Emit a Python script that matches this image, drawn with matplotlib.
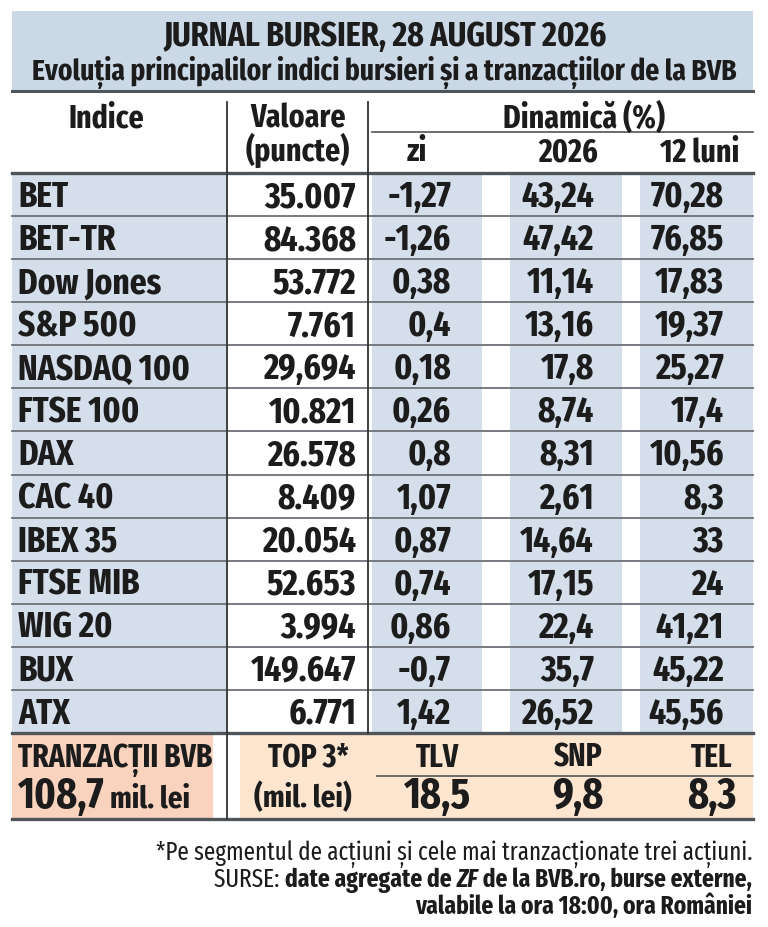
import matplotlib
matplotlib.use("Agg")
import matplotlib.pyplot as plt
from matplotlib import font_manager as fm
from matplotlib.patches import Rectangle

# ---------------- data ----------------
title = "JURNAL BURSIER, 28 AUGUST 2026"
subtitle = "Evoluția principalilor indici bursieri și a tranzacțiilor de la BVB"
indices = ["BET", "BET-TR", "Dow Jones", "S&P 500", "NASDAQ 100", "FTSE 100", "DAX",
           "CAC 40", "IBEX 35", "FTSE MIB", "WIG 20", "BUX", "ATX"]
valoare = ["35.007", "84.368", "53.772", "7.761", "29,694", "10.821", "26.578",
           "8.409", "20.054", "52.653", "3.994", "149.647", "6.771"]
dyn_zi = [-1.27, -1.26, 0.38, 0.4, 0.18, 0.26, 0.8, 1.07, 0.87, 0.74, 0.86, -0.7, 1.42]
dyn_2026 = [43.24, 47.42, 11.14, 13.16, 17.8, 8.74, 8.31, 2.61, 14.64, 17.15, 22.4, 35.7, 26.52]
dyn_12luni = [70.28, 76.85, 17.83, 19.37, 25.27, 17.4, 10.56, 8.3, 33, 24, 41.21, 45.22, 45.56]
total_bvb = 108.7
top3_tickers = ["TLV", "SNP", "TEL"]
top3_values = [18.5, 9.8, 8.3]
footnote = "*Pe segmentul de acțiuni și cele mai tranzacționate trei acțiuni."

# ---------------- fonts ----------------
avail = {f.name for f in fm.fontManager.ttflist}
FAM = ["DejaVu Sans"]
for cand in ["Fira Sans Extra Condensed", "Fira Sans Condensed", "Roboto Condensed",
             "Barlow Semi Condensed", "Liberation Sans Narrow", "Encode Sans Condensed"]:
    if cand in avail:
        FAM = [cand, "DejaVu Sans"]
        break

def fmt(v):
    return f"{v:g}".replace(".", ",")

BLUE = "#d4dfeb"
TITLE_BG = "#cbd8e6"
SALMON = "#f9d3be"
PEACH = "#fde5d0"
LINE = "#50555a"
TXT = "#1c1c1c"

fig = plt.figure(figsize=(7.68, 9.28), dpi=100)
ax = fig.add_axes([0, 0, 1, 1])
ax.set_xlim(0, 768)
ax.set_ylim(928, 0)
ax.axis("off")
fig.canvas.draw()
REN = fig.canvas.get_renderer()

def T(x, y, s, size, ha="left", weight="bold", style="normal", va="baseline"):
    return ax.text(x, y, s, fontsize=size, ha=ha, va=va, color=TXT, family=FAM,
                   fontweight=weight, fontstyle=style)

def width(s, size, weight="bold", style="normal"):
    t = T(0, 0, s, size, weight=weight, style=style)
    w = t.get_window_extent(REN).width
    t.remove()
    return w

def fit(s, target, weight="bold"):
    return 20.0 * target / width(s, 20.0, weight)

S_TITLE = fit(title, 430) * 1.03
S_SUB = fit(subtitle, 706)
S_DATA = fit("Dow Jones", 133) * 1.08
S_HDR = fit("Dinamică (%)", 152) * 1.06
S_BIG = fit("108,7", 82) * 1.05
S_MIL = fit("mil. lei", 78) * 1.03
S_TR = fit("TRANZACȚII BVB", 190) * 1.02
S_FOOT = fit(footnote, 594, "normal")
S_FOOTB = fit("valabile la ora 18:00, ora României", 337)

L, R = 12, 753
V1, V2 = 227, 368

# title block
ax.add_patch(Rectangle((L, 12), R - L, 80, facecolor=TITLE_BG, edgecolor="none"))
ax.plot([L, R], [92, 92], color=LINE, lw=2.2)
T(385, 46, title, S_TITLE, ha="center")
T(384, 80, subtitle, S_SUB, ha="center")

# header
T(106, 128, "Indice", S_HDR, ha="center")
T(298, 128, "Valoare", S_HDR, ha="center")
T(298, 161, "(puncte)", S_HDR, ha="center")
T(584, 128, "Dinamică (%)", S_HDR, ha="center")
ax.plot([372, R], [133, 133], color=LINE, lw=1.2)
T(417, 161, "zi", S_HDR, ha="center")
T(598, 161, "2026", S_HDR, ha="right")
T(739, 161, "12 luni", S_HDR, ha="right")

# body
top = 174
bottom = 734
n = len(indices)
rh = (bottom - top) / n
for x0, x1 in [(L, V1), (372, 482), (510, 622), (640, R)]:
    ax.add_patch(Rectangle((x0, top), x1 - x0, bottom - top, facecolor=BLUE, edgecolor="none"))
col_right = [451, 594, 724]
for i in range(n):
    yb = top + i * rh + rh / 2 + 11.5
    T(18, yb, indices[i], S_DATA)
    T(356, yb, valoare[i], S_DATA, ha="right")
    T(col_right[0], yb, fmt(dyn_zi[i]), S_DATA, ha="right")
    T(col_right[1], yb, fmt(dyn_2026[i]), S_DATA, ha="right")
    T(col_right[2], yb, fmt(dyn_12luni[i]), S_DATA, ha="right")
for i in range(1, n):
    y = top + i * rh
    ax.plot([L, R], [y, y], color="#6d7278", lw=1.3)
ax.plot([L, R], [top, top], color=LINE, lw=2.4)
ax.plot([L, R], [bottom, bottom], color=LINE, lw=2.4)

# bottom block
ax.add_patch(Rectangle((L, bottom + 1), 213 - L, 820 - bottom - 1, facecolor=SALMON, edgecolor="none"))
ax.add_patch(Rectangle((240, bottom + 1), R - 240, 820 - bottom - 1, facecolor=PEACH, edgecolor="none"))
ax.plot([L, R], [820, 820], color=LINE, lw=2.4)
ax.plot([377, R], [777, 777], color=LINE, lw=1.2)
T(18, 767, "TRANZACȚII BVB", S_TR)
t1 = T(18, 808, fmt(total_bvb), S_BIG)
bb = t1.get_window_extent(REN)
T(bb.x1 + 6, 808, "mil. lei", S_MIL)
T(349, 767, "TOP 3*", S_TR, ha="right")
T(352, 807, "(mil. lei)", S_MIL, ha="right")
top_x = [437, 578, 712]
for tx, tk, tv in zip(top_x, top3_tickers, top3_values):
    T(tx, 767, tk, S_TR, ha="center")
    T(tx, 808, fmt(tv), S_BIG, ha="center")

# vertical lines
ax.plot([V1, V1], [103, 820], color="#333", lw=1.3)
ax.plot([V2, V2], [103, bottom], color="#333", lw=1.3)

# footnotes (right-aligned, mixed styles)
T(752, 860, footnote, S_FOOT, ha="right", weight="normal")

def rline(y, parts, size):
    x = 752
    for s, w, st in reversed(parts):
        t = T(x, y, s, size, ha="right", weight=w, style=st)
        b = t.get_window_extent(REN)
        x = x - (b.x1 - b.x0)

rline(887, [("SURSE: ", "normal", "normal"), ("date agregate de ", "bold", "normal"),
            ("ZF", "bold", "italic"), (" de la BVB.ro, burse externe,", "bold", "normal")], S_FOOTB)
T(752, 914, "valabile la ora 18:00, ora României", S_FOOTB, ha="right")

fig.savefig("out.png", dpi=100, facecolor="white")
